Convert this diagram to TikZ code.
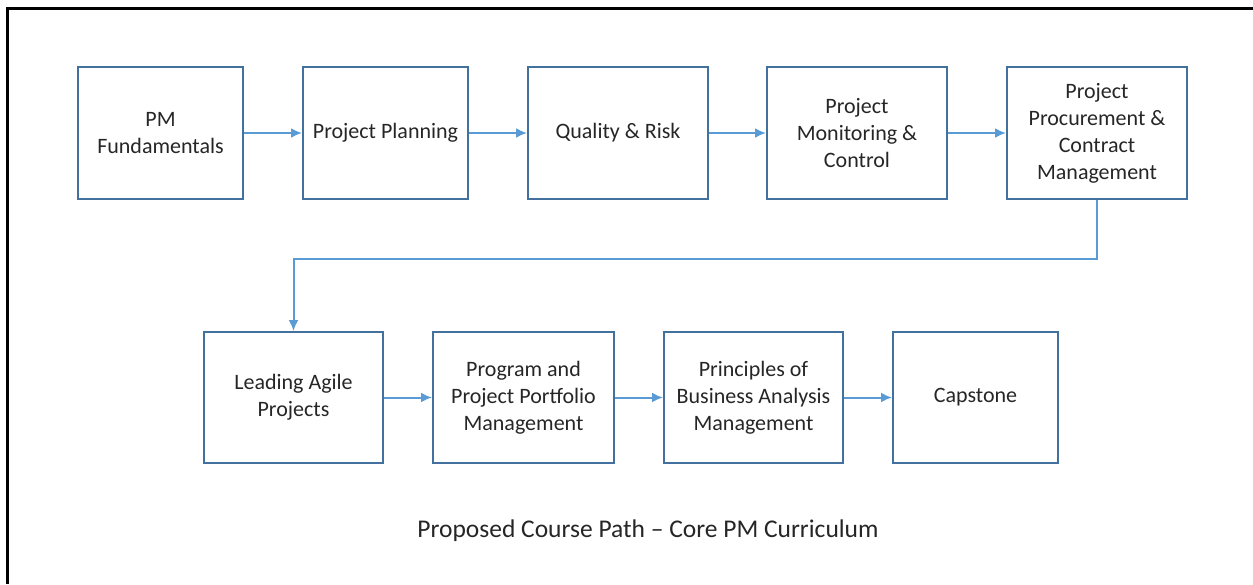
\documentclass[tikz,border=0pt]{standalone}
\usepackage{fontspec}
\setmainfont{Carlito}
\usetikzlibrary{arrows.meta}
\definecolor{boxblue}{HTML}{41719C}
\definecolor{arrowblue}{HTML}{5B9BD5}
\definecolor{textgray}{HTML}{262626}
\begin{document}
\begin{tikzpicture}[x=1pt, y=-1pt,
		course/.style={draw=boxblue, line width=2pt, align=center, text=textgray,
			font=\fontsize{22}{27}\selectfont, minimum height=132pt, inner sep=0pt},
		flow/.style={draw=arrowblue, line width=2pt, -{Latex[length=11pt, width=10pt]}}]
	\useasboundingbox (0,0) rectangle (1253,584);

	% Draw outer frame
	\draw[line width=3pt] (7,584) -- (7,8) -- (1253,8);

	% Top row of courses
	\node[course, minimum width=165pt] (pmfund) at (160.5,133) {PM\\Fundamentals};
	\node[course, minimum width=165pt] (planning) at (385.5,133) {Project Planning};
	\node[course, minimum width=180pt] (quality) at (618,133) {Quality \& Risk};
	\node[course, minimum width=180pt] (monitor) at (857,133) {Project\\Monitoring \&\\Control};
	\node[course, minimum width=180pt] (procure) at (1097,133) {Project\\Procurement \&\\Contract\\Management};

	% Bottom row of courses
	\node[course, minimum width=179pt, minimum height=131pt] (agile) at (293.5,397.5) {Leading Agile\\Projects};
	\node[course, minimum width=181pt, minimum height=131pt] (portfolio) at (523.5,397.5) {Program and\\Project Portfolio\\Management};
	\node[course, minimum width=179pt, minimum height=131pt] (business) at (753.5,397.5) {Principles of\\Business Analysis\\Management};
	\node[course, minimum width=165pt, minimum height=131pt] (capstone) at (975.5,397.5) {Capstone};

	% Draw arrows between courses
	\draw[flow] (pmfund) -- (planning);
	\draw[flow] (planning) -- (quality);
	\draw[flow] (quality) -- (monitor);
	\draw[flow] (monitor) -- (procure);
	\draw[flow] (procure.south) -- ++(0,59) -| (agile.north);
	\draw[flow] (agile) -- (portfolio);
	\draw[flow] (portfolio) -- (business);
	\draw[flow] (business) -- (capstone);

	\node[text=textgray, font=\fontsize{25.5}{30}\selectfont] (caption) at (648,531)
		{Proposed Course Path -- Core PM Curriculum};
\end{tikzpicture}
\end{document}
